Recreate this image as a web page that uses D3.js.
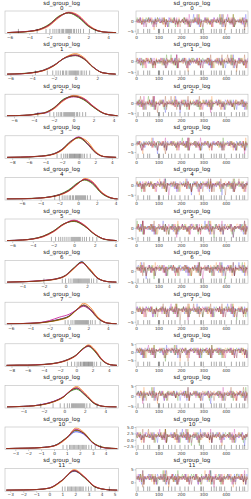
<!DOCTYPE html>
<html>
<head>
<meta charset="utf-8">
<script src="https://cdn.jsdelivr.net/npm/d3@7"></script>
<style>
  body { margin: 0; background: #fff; }
  svg { display: block; font-family: "DejaVu Sans", sans-serif; }
</style>
</head>
<body>
<svg id="fig"></svg>
<script>
var varName = "sd_group_log";
var chainColors = ["#2a2eec", "#fa7c17", "#328c06", "#c10c90", "#933708"];
var nDraws = 500;

// axis limits of each variable (shared by kde x-axis and trace y-axis)
var limits = [
  [-6.46, 5.05], [-6.5, 3.96], [-6.9, 4.5], [-8.86, 4.79],
  [-7.8, 4.3], [-6.7, 4.3], [-5.6, 4.9], [-6.6, 5.1],
  [-8.8, 5.2], [-5.8, 5.3], [-3.8, 5.0], [-3.4, 5.3]
];

var kdeTicks = [
  [-6, -4, -2, 0, 2, 4], [-6, -4, -2, 0, 2], [-6, -4, -2, 0, 2, 4], [-8, -6, -4, -2, 0, 2, 4],
  [-6, -4, -2, 0, 2, 4], [-6, -4, -2, 0, 2, 4], [-4, -2, 0, 2, 4], [-6, -4, -2, 0, 2, 4],
  [-8, -6, -4, -2, 0, 2, 4], [-4, -2, 0, 2, 4], [-3, -2, -1, 0, 1, 2, 3, 4], [-3, -2, -1, 0, 1, 2, 3, 4, 5]
];
var traceTicks = [
  [-5, 0], [-5, 0], [-5, 0], [-5, 0], [-5, 0], [-5, 0], [-5, 0], [-5, 0],
  [-5, 0, 5], [-5, 0, 5], [-2.5, 0, 2.5, 5], [0, 5]
];
var drawTicks = [0, 100, 200, 300, 400];

// kde grid per variable, and density per chain
var kdeX = [
  [-6.2, -5, -4, -3, -2, -1, 0, 1, 2, 3, 4, 4.8],
  [-6.3, -5, -4, -3, -2, -1, 0, 0.8, 1.6, 2.5, 3.7],
  [-6.7, -5, -4, -3.5, -3, -2, -1, 0, 1, 2, 3, 4, 4.4],
  [-8.6, -7, -6, -5, -4, -3, -2, -1, 0, 1, 2, 3, 4.5],
  [-7.6, -6, -5, -4, -3, -2, -1, 0, 0.7, 1.5, 2.5, 3.5, 4.2],
  [-6.5, -5, -4, -3, -2, -1, 0, 1, 2, 3, 4.1],
  [-5.4, -4, -3, -2, -1, 0, 0.8, 1.5, 2.2, 3, 4, 4.7],
  [-6.4, -5, -4, -3, -2, -1, 0, 0.8, 1.5, 2.2, 3, 4, 4.9],
  [-8.6, -7, -6, -5, -4, -3, -2, -1, 0, 0.8, 1.5, 2.3, 3.2, 4.2, 5],
  [-5.6, -4, -3, -2, -1, 0, 0.6, 1.2, 2, 3, 4, 5.1],
  [-3.7, -3, -2, -1, 0, 1, 1.7, 2.3, 3, 4, 4.9],
  [-3.3, -2, -1, 0, 1, 1.9, 2.7, 3.5, 4.5, 5.2]
];
var kdeY = [
  [[0, .02, .06, .14, .36, .75, .98, .78, .33, .08, .01, 0],
   [0, .02, .05, .12, .32, .72, 1.0, .84, .38, .09, .01, 0],
   [0, .02, .06, .16, .40, .80, .95, .72, .30, .07, .01, 0],
   [0, .03, .07, .15, .36, .76, .97, .80, .34, .08, .01, 0],
   [0, .02, .06, .15, .38, .78, .96, .76, .32, .08, .01, 0]],
  [[0, .02, .07, .18, .42, .78, .92, .76, .36, .07, 0],
   [0, .02, .06, .16, .40, .80, 1.0, .80, .36, .06, 0],
   [0, .03, .08, .19, .44, .78, .90, .72, .34, .07, 0],
   [0, .02, .07, .18, .43, .79, .91, .74, .35, .07, 0],
   [0, .02, .07, .17, .41, .80, .94, .74, .35, .07, 0]],
  [[0, .02, .06, .12, .12, .35, .78, .95, .80, .42, .12, .02, 0],
   [0, .02, .05, .08, .12, .32, .72, .98, .84, .45, .13, .02, 0],
   [0, .02, .07, .10, .14, .38, .80, .92, .76, .40, .11, .02, 0],
   [0, .02, .06, .11, .13, .36, .75, .90, .82, .44, .12, .02, 0],
   [0, .02, .06, .10, .13, .37, .77, .93, .78, .41, .12, .02, 0]],
  [[0, .01, .02, .04, .08, .17, .38, .75, .98, .70, .25, .04, 0],
   [0, .01, .02, .04, .07, .15, .34, .70, .96, .80, .30, .05, 0],
   [0, .01, .02, .05, .09, .18, .40, .78, .95, .66, .23, .04, 0],
   [0, .01, .03, .05, .08, .17, .39, .76, 1.0, .68, .24, .04, 0],
   [0, .01, .02, .05, .08, .16, .37, .74, .97, .72, .26, .04, 0]],
  [[0, .01, .02, .05, .10, .20, .42, .78, .95, .80, .30, .05, 0],
   [0, .01, .02, .04, .09, .18, .38, .74, 1.0, .86, .34, .06, 0],
   [0, .01, .03, .05, .11, .22, .45, .80, .92, .74, .27, .04, 0],
   [0, .01, .02, .05, .10, .21, .40, .76, .96, .82, .31, .05, 0],
   [0, .01, .02, .05, .10, .20, .41, .77, .94, .78, .29, .05, 0]],
  [[0, .03, .08, .20, .45, .80, .96, .72, .30, .06, 0],
   [0, .02, .07, .18, .42, .78, .98, .76, .32, .06, 0],
   [0, .03, .09, .22, .47, .82, .93, .70, .29, .05, 0],
   [0, .03, .08, .20, .44, .80, 1.0, .74, .31, .06, 0],
   [0, .03, .08, .21, .46, .81, .95, .71, .30, .06, 0]],
  [[0, .02, .04, .08, .14, .32, .70, 1.0, .62, .18, .02, 0],
   [0, .02, .04, .07, .13, .30, .66, .96, .68, .20, .02, 0],
   [0, .02, .04, .08, .15, .34, .72, .98, .60, .17, .02, 0],
   [0, .02, .05, .09, .15, .33, .70, .94, .62, .18, .02, 0],
   [0, .02, .04, .08, .14, .32, .69, .97, .64, .19, .02, 0]],
  [[0, .01, .02, .05, .12, .22, .38, .70, .90, .70, .28, .03, 0],
   [0, .01, .02, .04, .10, .18, .34, .68, 1.0, .80, .32, .04, 0],
   [0, .01, .02, .05, .11, .20, .36, .68, .88, .66, .25, .03, 0],
   [0, .01, .03, .06, .16, .32, .46, .68, .85, .66, .26, .03, 0],
   [0, .01, .02, .05, .11, .21, .37, .69, .92, .72, .27, .03, 0]],
  [[0, .01, .01, .02, .04, .08, .15, .28, .50, .80, .95, .70, .25, .03, 0],
   [0, .01, .01, .02, .04, .07, .14, .26, .48, .80, 1.0, .76, .28, .04, 0],
   [0, .01, .01, .02, .05, .09, .16, .30, .52, .82, .92, .66, .23, .03, 0],
   [0, .01, .01, .03, .05, .08, .16, .29, .50, .78, .94, .70, .26, .03, 0],
   [0, .01, .01, .02, .04, .08, .15, .28, .50, .80, .96, .70, .25, .03, 0]],
  [[0, .03, .06, .14, .28, .52, .78, .90, .60, .15, .02, 0],
   [0, .02, .05, .12, .25, .50, .80, 1.0, .68, .18, .02, 0],
   [0, .03, .06, .13, .27, .52, .76, .86, .58, .14, .02, 0],
   [0, .03, .06, .14, .28, .54, .80, .92, .62, .16, .02, 0],
   [0, .03, .06, .13, .27, .52, .79, .93, .62, .16, .02, 0]],
  [[0, .01, .02, .05, .14, .52, .82, .70, .28, .03, 0],
   [0, .01, .02, .04, .12, .50, 1.0, .80, .30, .04, 0],
   [0, .01, .02, .05, .14, .55, .88, .76, .30, .04, 0],
   [0, .01, .02, .05, .13, .54, .94, .74, .28, .03, 0],
   [0, .01, .02, .05, .13, .53, .90, .74, .29, .03, 0]],
  [[0, .01, .03, .10, .48, .92, .62, .16, .02, 0],
   [0, .01, .03, .09, .46, 1.0, .66, .18, .02, 0],
   [0, .01, .03, .10, .50, .95, .60, .15, .02, 0],
   [0, .01, .03, .11, .50, .96, .64, .17, .02, 0],
   [0, .01, .03, .10, .49, .94, .62, .16, .02, 0]]
];

// trace values: each digit is an index into the variable's value levels
var traceLevels = [
  [-5.8, -4.6, -3.1, -1.8, -1.1, -0.5, 0.1, 0.8, 1.7, 3.4],
  [-6.0, -4.8, -3.2, -1.9, -1.1, -0.5, 0.1, 0.7, 1.5, 3.0],
  [-6.3, -4.8, -3.3, -1.9, -1.1, -0.5, 0.1, 0.8, 1.7, 3.5],
  [-8.2, -6.2, -4.0, -2.3, -1.3, -0.6, 0.0, 0.7, 1.6, 3.6],
  [-7.2, -5.2, -3.4, -1.8, -0.7, 0.1, 0.7, 1.3, 2.1, 3.6],
  [-6.1, -4.7, -3.2, -1.8, -1.0, -0.4, 0.2, 0.9, 1.8, 3.4],
  [-5.0, -3.7, -2.2, -0.7, 0.2, 0.9, 1.5, 2.0, 2.8, 4.1],
  [-6.0, -4.2, -2.6, -1.0, 0.0, 0.8, 1.4, 2.0, 2.8, 4.3],
  [-8.1, -5.7, -3.6, -1.7, -0.5, 0.6, 1.3, 1.9, 2.7, 4.4],
  [-5.2, -3.7, -2.2, -0.8, 0.1, 0.7, 1.2, 1.8, 2.6, 4.4],
  [-3.3, -2.3, -1.1, 0.0, 0.7, 1.2, 1.7, 2.2, 2.9, 4.2],
  [-2.9, -1.9, -0.8, 0.2, 0.9, 1.4, 1.9, 2.4, 3.2, 4.6]
];
var traces = [
  ["6574856372758647283668475637287465836475674857362559463827565867463758648573926585647382655746382947",
   "7564738562647586175674563827565864736285475863725664857392656475836275758649537165748392656583746275",
   "5867463758586736475856748573626748526374658374627575864953715748637546647593846275836492756574856372",
   "6475836275675842637567485736258564738265574638294764759384626847563728657485637259463827567564738562",
   "5748637546684756372874563827565674857362674857362547586372566583746275574638294775864728366475861756"],
  ["5748637546746583647547586372566574839265758647283665748563727456382756756473856264857392655867463758",
   "6847563728586473628565837462757583649275647586175675647385625674857362586746375875864953716475836275",
   "7456382756674852637457463829475946382756586736475858674637586748573625647583627564759384625748637546",
   "5674857362856473826575864728366485739265675842637564758362754758637256574863754665748563726847563728",
   "5867364758675842637574658364755864736285674852637485647382656574839265758364927559463827566485739265"],
  ["6748573625657483926564758617567586495371746583647557486375466583746275684756372875647385627456382756",
   "4758637256758364927558673647586475938462586473628568475637285746382947745638275658674637585674857362",
   "6583746275594638275667584263756574856372674852637474563827567586472836567485736264758362756748573625",
   "5746382947648573926574658364757564738562856473826556748573626475861756674857362557486375464758637256",
   "6475938462758649537164857392655946382756758364927565748392658564738265674852637458647362857465836475"],
  ["7586472836758649537158647362855867463758657483926567485736255867364758475863725668475637286583746275",
   "6475861756647593846267485263746475836275758364927547586372566758426375658374627574563827565746382947",
   "5867364758657485637285647382655748637546594638275665837462757465836475574638294756748573627586472836",
   "6758426375756473856265748392656847563728648573926557463829475864736285758647283667485736256475861756",
   "6758426375586736475864758617567586472836574638294765837462754758637256674857362556748573627456382756"],
  ["7465836475586746375875836492757456382756758649537175864728366748526374647586175647586372565867364758",
   "5864736285647583627559463827565674857362647593846264758617568564738265586736475865837462756758426375",
   "6748526374574863754664857392656748573625657485637258673647586574839265675842637557463829477465836475",
   "8564738265684756372875864953714758637256756473856267584263757583649275746583647575864728365864736285",
   "6847563728574863754664758362755867463758756473856265748563726475938462758649537164857392655946382756"],
  ["6574839265745638275664759384626583746275586746375874658364755946382756586473628564758617566748526374",
   "7583649275567485736265748563725746382947647583627558647362856485739265674852637458673647588564738265",
   "5946382756674857362575647385627586472836574863754667485263747586495371856473826567584263756574839265",
   "6485739265475863725658674637586475861756684756372885647382656475938462657483926574658364757583649275",
   "7583649275657483926585647382656748526374586473628574658364756758426375586736475864758617567586472836"],
  ["7586495371658374627564758362755867364758745638275665748392656574856372758364927558647362855946382756",
   "6475938462574638294757486375466758426375567485736275836492757564738562594638275667485263746485739265",
   "6574856372647586175668475637285864736285674857362564857392656475836275758649537165748392656475938462",
   "7564738562586736475874563827566748526374475863725675864953715748637546647593846275836492756574856372",
   "5746382947658374627547586372566748573625567485736274563827566847563728574863754664758362755867463758"],
  ["5867463758675842637556748573628564738265658374627564759384626847563728657485637259463827567564738562",
   "6475836275746583647567485736256574839265574638294765748563727456382756756473856264857392655867463758",
   "5748637546586473628547586372567583649275758647283675647385625674857362586746375875864953716475836275",
   "6847563728674852637465837462755946382756647586175658674637586748573625647583627564759384625748637546",
   "7564738562657485637264759384627586495371648573926559463827567583649275657483926585647382656748526374"],
  ["7456382756856473826557463829476485739265586736475864758362754758637256574863754665748563726847563728",
   "5674857362657483926575864728367586495371675842637557486375466583746275684756372875647385627456382756",
   "6748573625758364927564758617566475938462746583647568475637285746382947745638275658674637585674857362",
   "4758637256594638275658673647586574856372586473628574563827567586472836567485736264758362756748573625",
   "5864736285746583647567584263755867364758647586175675864728365746382947658374627547586372566748573625"],
  ["6583746275648573926567584263757564738562674852637456748573626475861756674857362557486375464758637256",
   "5746382947758649537174658364755867463758856473826567485736255867364758475863725668475637286583746275",
   "7586472836647593846258647362856475836275657483926547586372566758426375658374627574563827565746382947",
   "6475861756657485637267485263745748637546758364927565837462757465836475574638294756748573627586472836",
   "5674857362745638275668475637285748637546647583627558674637587564738562657485637264759384627586495371"],
  ["5867364758756473856285647382656847563728594638275657463829475864736285758647283667485736256475861756",
   "6758426375586746375865748392657456382756648573926575864728366748526374647586175647586372565867364758",
   "7465836475647583627575836492755674857362758649537164758617568564738265586736475865837462756758426375",
   "5864736285574863754659463827566748573625647593846258673647586574839265675842637557463829477465836475",
   "6485739265594638275675836492756574839265856473826567485263745864736285746583647567584263755867364758"],
  ["6748526374684756372864857392654758637256657485637267584263757583649275746583647575864728365864736285",
   "8564738265745638275675864953716583746275756473856274658364755946382756586473628564758617566748526374",
   "6574839265567485736264759384625746382947586746375858647362856485739265674852637458673647588564738265",
   "7583649275674857362565748563727586472836647583627567485263747586495371856473826567584263756574839265",
   "6475861756758647283657463829476583746275475863725667485736255674857362745638275668475637285748637546"]
];

// divergent draws (same for every variable) and their values
var divergences = [9, 34, 52, 61, 100, 102, 105, 122, 145, 159, 174, 196, 218, 233, 260,
  289, 291, 300, 336, 348, 358, 373, 380, 395, 425, 447, 461, 476, 484];
var rugValues = [
  [-5.1, -3.2, -2.3, -1.9, -1.6, -1.4, -1.2, -1.0, -0.9, -0.7, -0.6, -0.5, -0.3, -0.2, -0.1, 0, 0.1, 0.2, 0.3, 0.5, 0.6, 0.8, 1.0, 1.2, 1.5, 2.1, 2.7],
  [-3.7, -2.6, -2.1, -1.8, -1.6, -1.4, -1.2, -1.1, -0.9, -0.8, -0.6, -0.5, -0.4, -0.3, -0.2, -0.1, 0, 0.1, 0.2, 0.3, 0.5, 0.6, 0.8, 1.0, 1.3],
  [-3.6, -2.4, -2, -1.7, -1.5, -1.3, -1.2, -1, -0.9, -0.8, -0.7, -0.6, -0.5, -0.4, -0.3, -0.2, -0.1, 0, 0.1, 0.3, 0.4, 0.6, 0.9, 1.2],
  [-2.6, -2.1, -1.8, -1.6, -1.4, -1.3, -1.1, -1, -0.9, -0.8, -0.7, -0.6, -0.5, -0.4, -0.3, -0.2, -0.1, 0, 0.1, 0.2, 0.3, 0.5, 0.7, 1, 1.4],
  [-2.5, -2, -1.7, -1.5, -1.3, -1.1, -0.9, -0.8, -0.6, -0.5, -0.3, -0.2, -0.1, 0, 0.1, 0.2, 0.3, 0.4, 0.5, 0.6, 0.7, 0.8, 1.0, 1.3],
  [-2.2, -1.8, -1.5, -1.3, -1.1, -0.9, -0.7, -0.5, -0.3, -0.2, -0.1, 0, 0.1, 0.2, 0.3, 0.4, 0.5, 0.6, 0.8, 1, 1.2, 1.5, 1.8, 2.2],
  [-2.0, -0.3, 0, 0.3, 0.5, 0.7, 0.8, 0.9, 1.0, 1.1, 1.2, 1.3, 1.4, 1.5, 1.6, 1.7, 1.8, 1.9, 2.0, 2.1, 2.2, 2.4, 2.6, 2.9],
  [-0.4, -0.1, 0.2, 0.4, 0.6, 0.7, 0.8, 0.9, 1.0, 1.1, 1.2, 1.3, 1.4, 1.5, 1.6, 1.7, 1.8, 1.9, 2.0, 2.2, 2.4, 2.7, 3.2],
  [-1.1, -0.6, -0.2, 0.1, 0.3, 0.5, 0.6, 0.8, 0.9, 1.0, 1.1, 1.2, 1.3, 1.4, 1.5, 1.6, 1.7, 1.8, 1.9, 2.0, 2.2, 2.5, 3.0],
  [-2.3, -1.1, -0.4, 0, 0.3, 0.5, 0.7, 0.8, 0.9, 1.0, 1.1, 1.2, 1.3, 1.4, 1.5, 1.6, 1.7, 1.8, 1.9, 2.0, 2.2, 2.5, 3.2],
  [0.7, 1.0, 1.2, 1.3, 1.4, 1.5, 1.6, 1.7, 1.8, 1.9, 2.0, 2.1, 2.2, 2.3, 2.4, 2.5, 2.7, 2.9, 3.2, 3.6],
  [1.0, 1.2, 1.4, 1.5, 1.6, 1.7, 1.8, 1.9, 2.0, 2.1, 2.2, 2.3, 2.4, 2.5, 2.6, 2.8, 3.0, 3.2, 3.5, 4.6]
];

var width = 251, height = 499;
var rowTop = 11, rowStep = 41.6, panelH = 22.6;
var kdeLeft = 5, kdeRight = 118.5, trLeft = 136, trRight = 248;

var svg = d3.select('#fig')
  .attr('width', width)
  .attr('height', height);

var fmtInt = d3.format('d'), fmtOne = d3.format('.1f');

limits.forEach(function(lim, i) {
  var top = rowTop + i * rowStep, bottom = top + panelH;

  // ---- left: kde ----
  var x = d3.scaleLinear().domain(lim).range([kdeLeft, kdeRight]);
  var ymax = d3.max(kdeY[i], function(c) { return d3.max(c); });
  var yk = d3.scaleLinear().domain([-0.05 * ymax, 1.05 * ymax]).range([bottom, top]);

  svg.append('clipPath').attr('id', 'ck' + i)
    .append('rect').attr('x', kdeLeft).attr('y', top)
    .attr('width', kdeRight - kdeLeft).attr('height', panelH);

  var gk = svg.append('g').attr('clip-path', 'url(#ck' + i + ')');
  var kline = d3.line()
    .x(function(d) { return x(d[0]); })
    .y(function(d) { return yk(d[1]); })
    .curve(d3.curveMonotoneX);

  kdeY[i].forEach(function(dens, c) {
    gk.append('path')
      .datum(kdeX[i].map(function(v, j) { return [v, dens[j]]; }))
      .attr('d', kline)
      .attr('fill', 'none')
      .attr('stroke', chainColors[c])
      .attr('stroke-width', 0.8);
  });

  gk.selectAll('.rug')
    .data(rugValues[i])
    .enter().append('line')
      .attr('x1', function(d) { return x(d); })
      .attr('x2', function(d) { return x(d); })
      .attr('y1', bottom - 4.7)
      .attr('y2', bottom)
      .attr('stroke', '#000')
      .attr('stroke-opacity', 0.6)
      .attr('stroke-width', 0.55);

  svg.append('rect')
    .attr('x', kdeLeft).attr('y', top)
    .attr('width', kdeRight - kdeLeft).attr('height', panelH)
    .attr('fill', 'none').attr('stroke', '#bcbcbc').attr('stroke-width', 0.6);

  var axk = svg.append('g')
    .attr('transform', 'translate(0,' + bottom + ')')
    .call(d3.axisBottom(x).tickValues(kdeTicks[i]).tickFormat(fmtInt).tickSize(1.5).tickPadding(0.8));
  styleAxis(axk);

  addTitle((kdeLeft + kdeRight) / 2, top, i);

  // ---- right: trace ----
  var xt = d3.scaleLinear().domain([0, nDraws - 1]).range([trLeft, trRight]);
  var yt = d3.scaleLinear().domain(lim).range([bottom, top]);

  svg.append('clipPath').attr('id', 'ct' + i)
    .append('rect').attr('x', trLeft).attr('y', top)
    .attr('width', trRight - trLeft).attr('height', panelH);

  var gt = svg.append('g').attr('clip-path', 'url(#ct' + i + ')');
  var tline = d3.line()
    .x(function(d) { return xt(d[0]); })
    .y(function(d) { return yt(d[1]); });

  traces[i].forEach(function(s, c) {
    var n = s.length;
    var pts = s.split('').map(function(ch, j) {
      return [j * (nDraws - 1) / (n - 1), traceLevels[i][+ch]];
    });
    gt.append('path')
      .datum(pts)
      .attr('d', tline)
      .attr('fill', 'none')
      .attr('stroke', chainColors[c])
      .attr('stroke-opacity', 0.45)
      .attr('stroke-width', 0.55);
  });

  gt.selectAll('.div')
    .data(divergences)
    .enter().append('line')
      .attr('x1', function(d) { return xt(d); })
      .attr('x2', function(d) { return xt(d); })
      .attr('y1', bottom - 4.7)
      .attr('y2', bottom)
      .attr('stroke', '#000')
      .attr('stroke-opacity', 0.6)
      .attr('stroke-width', 0.55);

  svg.append('rect')
    .attr('x', trLeft).attr('y', top)
    .attr('width', trRight - trLeft).attr('height', panelH)
    .attr('fill', 'none').attr('stroke', '#bcbcbc').attr('stroke-width', 0.6);

  var axb = svg.append('g')
    .attr('transform', 'translate(0,' + bottom + ')')
    .call(d3.axisBottom(xt).tickValues(drawTicks).tickFormat(fmtInt).tickSize(1.5).tickPadding(0.8));
  styleAxis(axb);

  var fmtY = traceTicks[i].some(function(v) { return v % 1 !== 0; }) ? fmtOne : fmtInt;
  var axl = svg.append('g')
    .attr('transform', 'translate(' + trLeft + ',0)')
    .call(d3.axisLeft(yt).tickValues(traceTicks[i]).tickFormat(fmtY).tickSize(1.5).tickPadding(0.8));
  styleAxis(axl);

  addTitle((trLeft + trRight) / 2, top, i);
});

function styleAxis(g) {
  g.select('.domain').remove();
  g.selectAll('line').attr('stroke', '#999').attr('stroke-width', 0.5);
  g.selectAll('text').attr('font-size', 4.2).attr('fill', '#333')
    .attr('font-family', '"DejaVu Sans", sans-serif');
}

function addTitle(cx, top, i) {
  svg.append('text')
    .attr('x', cx).attr('y', top - 8.3)
    .attr('dy', '0.35em')
    .attr('text-anchor', 'middle')
    .attr('font-size', 5.6)
    .attr('fill', '#222')
    .text(varName);
  svg.append('text')
    .attr('x', cx).attr('y', top - 3.3)
    .attr('dy', '0.35em')
    .attr('text-anchor', 'middle')
    .attr('font-size', 5.6)
    .attr('fill', '#222')
    .text(i);
}
</script>
</body>
</html>
